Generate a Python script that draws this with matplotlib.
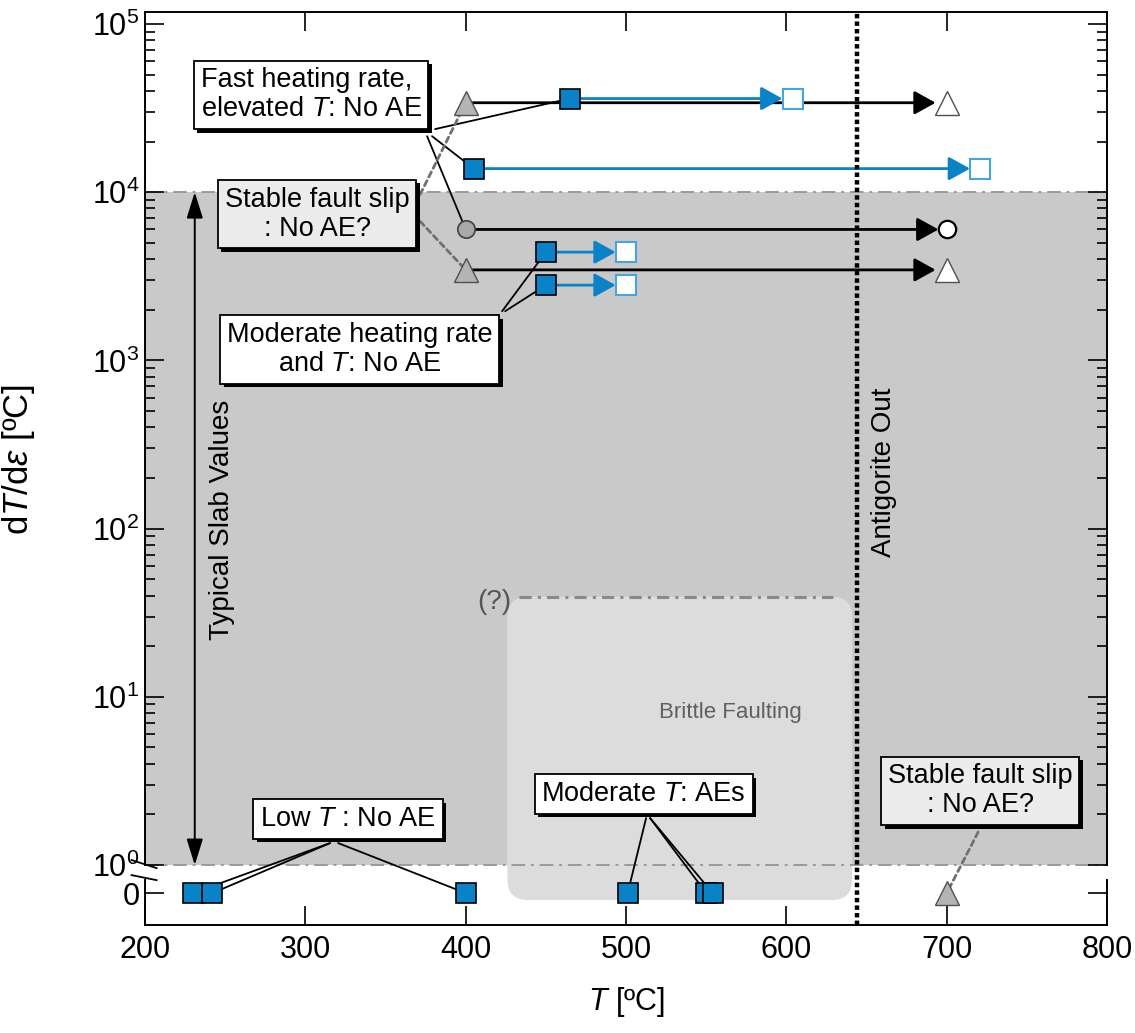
import numpy as np
import matplotlib
matplotlib.use('Agg')
import matplotlib.pyplot as plt
import matplotlib.patheffects as pe
from matplotlib.patches import FancyBboxPatch

plt.rcParams['font.family'] = ['Liberation Sans', 'DejaVu Sans']
plt.rcParams['mathtext.fontset'] = 'custom'
plt.rcParams['mathtext.rm'] = 'Liberation Sans'
plt.rcParams['mathtext.it'] = 'Liberation Sans:italic'
plt.rcParams['mathtext.bf'] = 'Liberation Sans:bold'

# --- data ---------------------------------------------------------------
# heating ramps: start T, end T, dT/deps
blue_fast_start = [465, 405]
blue_fast_end = [604, 721]
blue_fast_rate = [3.6e4, 1.38e4]

blue_mod_start = [450, 450]
blue_mod_end = [500, 500]
blue_mod_rate = [4.4e3, 2.8e3]

tri_start = [400, 400]
tri_end = [700, 700]
tri_rate = [3.4e4, 3.45e3]

circ_start = [400]
circ_end = [700]
circ_rate = [6.0e3]

# constant temperature runs (dT/deps = 0)
low_T = [230, 242, 400]
mod_T = [501, 550, 554]
stable_T = [700]

antigorite_T = 644
slab_range = [1, 1e4]
brittle_T = [426, 641]
brittle_top = 39.4

ytick_vals = [0, 1, 10, 100, 1e3, 1e4, 1e5]
ytick_labels = ['0', '10$^{0}$', '10$^{1}$', '10$^{2}$', '10$^{3}$', '10$^{4}$', '10$^{5}$']
xtick_vals = [200, 300, 400, 500, 600, 700, 800]

BLUE = '#0a82c8'
OPEN_BLUE = '#45a5e0'

# y axis: log above 10^0, a short linear piece down to the "0" row
ZERO = 0.167


def fwd(v):
    v = np.asarray(v, float)
    return np.where(v >= 1, np.log10(np.maximum(v, 1)), (v - 1) * ZERO)


def inv(u):
    u = np.asarray(u, float)
    return np.where(u >= 0, 10 ** np.minimum(u, 20), 1 + u / ZERO)


fig = plt.figure(figsize=(11.35, 10.33), dpi=100)
ax = fig.add_axes([0.1278, 0.1045, 0.8476, 0.8839])
ax.set_yscale('function', functions=(fwd, inv))
ylo, yhi = 1 - 0.357 / ZERO, 10 ** 5.071
ax.set_ylim(ylo, yhi)
ax.set_xlim(200, 800)

# background regions
ax.axhspan(slab_range[0], slab_range[1], color='#c9c9c9', lw=0, zorder=0)
dashdot = (0, (7, 3, 1.5, 3))
ax.axhline(slab_range[1], color='#9a9a9a', lw=1.4, ls=dashdot, zorder=1)
ax.axhline(slab_range[0], color='#9a9a9a', lw=1.4, ls=dashdot, zorder=1)

to_ax = ax.transAxes.inverted()
x0, y0 = to_ax.transform(ax.transData.transform((brittle_T[0], -0.25)))
x1, y1 = to_ax.transform(ax.transData.transform((brittle_T[1], brittle_top)))
ax.add_patch(FancyBboxPatch((x0, y0), x1 - x0, y1 - y0,
                            boxstyle='round,pad=0,rounding_size=0.022',
                            transform=ax.transAxes, fc='#dcdcdc', ec='none', zorder=0.5))
ax.plot([433, 629], [brittle_top, brittle_top], color='#8a8a8a', lw=2.2, ls=(0, (4, 2, 1, 2)), zorder=1)
ax.text(418, 36.7, '(?)', fontsize=20, color='#555555', ha='center', va='center', zorder=1)
ax.text(565, 8.1, 'Brittle Faulting', fontsize=16, color='#606060', ha='center', va='center', zorder=1)

ax.axvline(antigorite_T, color='k', lw=3.2, ls=(0, (1.0, 0.7)), zorder=3)
ax.text(661, 215, 'Antigorite Out', rotation=90, fontsize=20, ha='center', va='center')

ax.annotate('', xy=(231, slab_range[1]), xytext=(231, slab_range[0]),
            arrowprops=dict(arrowstyle='<|-|>,head_length=0.8,head_width=0.25', color='k', lw=1.4,
                            mutation_scale=20, shrinkA=0, shrinkB=0))
ax.text(248, 112, 'Typical Slab Values', rotation=90, fontsize=20, ha='center', va='center')


# ramps
def ramp(xs, xe, r, col, shrink):
    for a, b, y in zip(xs, xe, r):
        ax.annotate('', xy=(b, y), xytext=(a, y), zorder=2,
                    arrowprops=dict(arrowstyle='-|>,head_length=0.65,head_width=0.36', color=col, lw=2,
                                    mutation_scale=20, shrinkA=0, shrinkB=shrink))


ramp(tri_start, tri_end, tri_rate, 'k', 8)
ramp(circ_start, circ_end, circ_rate, 'k', 6)
ramp(blue_fast_start, blue_fast_end, blue_fast_rate, BLUE, 7.5)
ramp(blue_mod_start, blue_mod_end, blue_mod_rate, BLUE, 7.5)

# leader lines
lead = dict(arrowstyle='-', color='k', lw=1.3, shrinkA=0, shrinkB=0)
lead_d = dict(arrowstyle='-', color='#707070', lw=2, ls=(0, (2, 1.5)), shrinkA=0, shrinkB=0)


def leader(start, end, props):
    ax.annotate('', xy=end, xytext=start, arrowprops=props, zorder=3)


leader((380.9, 2.37e4), (blue_fast_start[0], blue_fast_rate[0]), lead)
leader((379.0, 2.15e4), (blue_fast_start[1], blue_fast_rate[1]), lead)
leader((375.9, 2.15e4), (circ_start[0], circ_rate[0]), lead)
leader((371.6, 9.7e3), (tri_start[0], tri_rate[0]), lead_d)
leader((371.6, 6.7e3), (tri_start[1], tri_rate[1]), lead_d)
leader((422.7, 1.96e3), (blue_mod_start[0], blue_mod_rate[0]), lead)
leader((424.6, 1.96e3), (blue_mod_start[1], blue_mod_rate[1]), lead)
leader((315.4, 1.35), (low_T[0], 0), lead)
leader((315.4, 1.35), (low_T[1], 0), lead)
leader((320.4, 1.35), (low_T[2], 0), lead)
leader((512.5, 1.9), (mod_T[0], 0), lead)
leader((515.0, 1.9), (mod_T[1], 0), lead)
leader((515.0, 1.9), (mod_T[2], 0), lead)
leader((719.6, 1.57), (stable_T[0], 0), lead_d)

# markers
ax.plot(tri_start, tri_rate, '^', ms=17, mfc='#b4b4b4', mec='#505050', mew=1, ls='none', zorder=5)
ax.plot(tri_end, tri_rate, '^', ms=17, mfc='white', mec='#505050', mew=1, ls='none', zorder=5)
ax.plot(circ_start, circ_rate, 'o', ms=12.5, mfc='#a8a8a8', mec='#404040', mew=1.2, ls='none', zorder=5)
ax.plot(circ_end, circ_rate, 'o', ms=12.5, mfc='white', mec='k', mew=1.6, ls='none', zorder=5)
ax.plot(blue_fast_end + blue_mod_end, blue_fast_rate + blue_mod_rate, 's', ms=15, mfc='white',
        mec=OPEN_BLUE, mew=1.5, ls='none', zorder=5)
ax.plot(blue_fast_start + blue_mod_start, blue_fast_rate + blue_mod_rate, 's', ms=15, mfc=BLUE,
        mec='k', mew=1.2, ls='none', zorder=5)
ax.plot(low_T + mod_T, [0] * 6, 's', ms=15, mfc=BLUE, mec='k', mew=1.2, ls='none', zorder=5)
ax.plot(stable_T, [0], '^', ms=17, mfc='#b4b4b4', mec='#505050', mew=1, ls='none', zorder=5)


# text boxes
def box(x, y, s, fc='white', ma='center'):
    t = ax.text(x, y, s, ha='center', va='center', fontsize=19.5, multialignment=ma, zorder=8,
                linespacing=1.15, bbox=dict(boxstyle='square,pad=0.25', fc=fc, ec='k', lw=1.3))
    t.get_bbox_patch().set_path_effects([pe.SimplePatchShadow(offset=(2.5, -2.5), shadow_rgbFace='k', alpha=1),
                                         pe.Normal()])


box(303.6, 3.78e4, 'Fast heating rate,\nelevated $\\it{T}$: No AE', ma='left')
box(307.3, 7.4e3, 'Stable fault slip\n: No AE?', fc='#ececec')
box(334.0, 1.16e3, 'Moderate heating rate\nand $\\it{T}$: No AE')
box(326.6, 1.88, 'Low $\\it{T}$ : No AE')
box(511.0, 2.65, 'Moderate $\\it{T}$: AEs')
box(720.9, 2.76, 'Stable fault slip\n: No AE?', fc='#ececec')

# axes, ticks, broken spines
ax.set_yticks(ytick_vals)
ax.set_yticklabels(ytick_labels)
ax.set_yticks([k * 10 ** d for d in range(5) for k in range(2, 10)], minor=True)
ax.set_xticks(xtick_vals)
ax.tick_params(which='both', direction='in', top=True, right=True, width=1.2, labelsize=22)
ax.tick_params(which='major', length=14)
ax.tick_params(which='minor', length=7)
ax.tick_params(axis='y', pad=4)
ax.tick_params(axis='x', pad=7)

for side in ['left', 'right']:
    ax.spines[side].set_visible(False)
for side in ['top', 'bottom']:
    ax.spines[side].set_linewidth(1.4)
ytr = ax.get_yaxis_transform()
for xa in [0, 1]:
    ax.plot([xa, xa], [slab_range[0], yhi], transform=ytr, color='k', lw=1.4, clip_on=False, zorder=6)
    ax.plot([xa, xa], [ylo, 0.47], transform=ytr, color='k', lw=1.4, clip_on=False, zorder=6)
for ya, yb in [(1.07, 0.89), (0.64, 0.46)]:
    ax.plot([-0.014, 0.012], [ya, yb], transform=ytr, color='k', lw=1.3, clip_on=False, zorder=6)

ax.set_xlabel('$\\it{T}$ [ºC]', fontsize=22)
ax.xaxis.set_label_coords(0.5, -0.066)
ax.set_ylabel('d$\\it{T}$/d$\\it{\\varepsilon}$ [ºC]', fontsize=25)
ax.yaxis.set_label_coords(-0.112, 0.51)

fig.savefig('out.png', dpi=100)
